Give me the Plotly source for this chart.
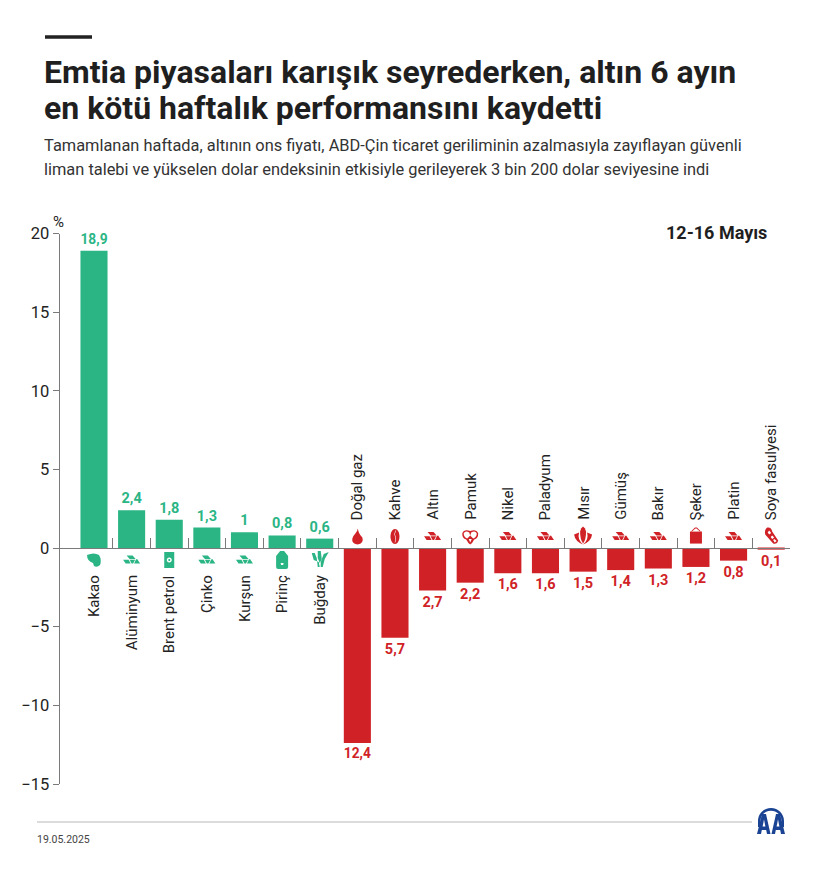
import re
import plotly.graph_objects as go

W = 820
H = 869

categories = ["Kakao", "Alüminyum", "Brent petrol", "Çinko", "Kurşun", "Pirinç", "Buğday",
              "Doğal gaz", "Kahve", "Altın", "Pamuk", "Nikel", "Paladyum", "Mısır",
              "Gümüş", "Bakır", "Şeker", "Platin", "Soya fasulyesi"]
values = [18.9, 2.4, 1.8, 1.3, 1, 0.8, 0.6,
          -12.4, -5.7, -2.7, -2.2, -1.6, -1.6, -1.5,
          -1.4, -1.3, -1.2, -0.8, -0.1]
icons = ["cocoa", "metal", "barrel", "metal", "metal", "rice", "wheat",
         "flame", "bean", "metal", "cotton", "metal", "metal", "corn",
         "metal", "metal", "sack", "metal", "soy"]
y_ticks = [-15, -10, -5, 0, 5, 10, 15, 20]

title_lines = ["Emtia piyasaları karışık seyrederken, altın 6 ayın",
               "en kötü haftalık performansını kaydetti"]
sub_lines = ["Tamamlanan haftada, altının ons fiyatı, ABD-Çin ticaret geriliminin azalmasıyla zayıflayan güvenli",
             "liman talebi ve yükselen dolar endeksinin etkisiyle gerileyerek 3 bin 200 dolar seviyesine indi"]
period = "12-16 Mayıs"
date_text = "19.05.2025"

GREEN = "#2bb585"
RED = "#d02226"
INK = "#222222"
AXIS = "#7a7a7a"
BLUE = "#1b4393"


def circle(cx, cy, r):
    k = 0.55 * r
    return (f"M {cx - r},{cy} C {cx - r},{cy + k} {cx - k},{cy + r} {cx},{cy + r} "
            f"C {cx + k},{cy + r} {cx + r},{cy + k} {cx + r},{cy} "
            f"C {cx + r},{cy - k} {cx + k},{cy - r} {cx},{cy - r} "
            f"C {cx - k},{cy - r} {cx - r},{cy - k} {cx - r},{cy} Z")


# small pictograms, drawn in pixels around their own centre (y goes up)
ICON_PATHS = {
    "metal": [("c", "M -5,4.5 L 1,4.5 L 4,1 L -2,1 Z"),
              ("c", "M -8.5,0.3 L -3,0.3 L -1,-3.5 L -6,-3.5 Z"),
              ("c", "M -2,0.3 L 3.5,0.3 L 1.5,-3.5 L 0,-3.5 Z"),
              ("c", "M 4.3,0.5 L 5.5,1 L 8.5,-3.5 L 2.5,-3.5 Z")],
    "cocoa": [("c", "M -7,5 Q 0,8 5,5 Q 8,0 6,-5 Q 3,-8 0,-6 L -1,-3 Q -7,-1 -7,5 Z")],
    "barrel": [("c", "M -5,8 L 5,8 L 5,-8 L -5,-8 Z"),
               ("w", circle(0, 0, 2.5)),
               ("c", circle(0, 0, 1))],
    "rice": [("c", "M -2,9 L 2,9 L 6,4 L 6,-7 Q 6,-9 4,-9 L -4,-9 Q -6,-9 -6,-7 L -6,4 Z"),
             ("w", "M -1.5,-3 L 1.5,-3 L 1,-5 L -1,-5 Z")],
    "wheat": [("c", "M -8,7 L -5,7 L -3,2 L -2,-7 L 0,-7 L -1,-2 L -6,0 Z"),
              ("c", "M 1,-7 L 3,-7 L 5,1 L 9,8 L 4,6 L 1,-2 Z"),
              ("c", "M -2,9 L 1,9 L 2,1 L 0,-3 L -2,2 Z")],
    "flame": [("c", "M 0.5,8 Q 1,3 5,-1 Q 7,-7 0,-8 Q -6,-7 -5,-2 Q -4,1 -2,3 Q 0,5 0.5,8 Z")],
    "bean": [("c", "M -4.5,0 C -4.5,4 -2.5,7.5 0,7.5 C 2.5,7.5 4.5,4 4.5,0 C 4.5,-4 2.5,-7.5 0,-7.5 C -2.5,-7.5 -4.5,-4 -4.5,0 Z"),
             ("w", "M 0.4,6 Q -1.2,3 0,0 Q 1.2,-3 -0.4,-6 L 0.2,-6 Q 1.8,-3 0.6,0 Q -0.6,3 1,6 Z")],
    "cotton": [("c", "M -8,3 Q -6,8 0,5.5 Q 6,8 8,3 Q 8,-2 4,-3 Q 2,-7 0,-8 Q -2,-7 -4,-3 Q -8,-2 -8,3 Z"),
               ("w", "M -6.5,3 Q -5,6.5 -1,4 L 0,1 L -3,-2 Q -6.5,-0.5 -6.5,3 Z"),
               ("w", "M 6.5,3 Q 5,6.5 1,4 L 0,1 L 3,-2 Q 6.5,-0.5 6.5,3 Z"),
               ("w", "M -1.5,-2.5 L 1.5,-2.5 L 0,-6 Z")],
    "corn": [("c", "M -9,2 Q -8,-5 0,-8 Q -6,-3 -4,4 Z"),
             ("c", "M 9,2 Q 8,-5 0,-8 Q 6,-3 4,4 Z"),
             ("c", "M -3,5 Q -3,-3 0,-7 Q 3,-3 3,5 Q 2,9 0,10 Q -2,9 -3,5 Z")],
    "sack": [("c", "M -6,5 L 6,5 L 6,-7 L -6,-7 Z"),
             ("c", "M -5,5 L -1,9 L 1,9 L 5,5 L 4,5 L 0.5,8 L -0.5,8 L -4,5 Z")],
    "soy": [("c", "M -4,9 Q 0,10 1,5 L 7,-4 Q 6,-8 2,-7 L -6,2 Q -7,7 -4,9 Z"),
            ("w", "M -2,6 L -3.5,4 L -2,2 L 0,3.5 Z"),
            ("w", "M 1,1 L -0.5,-0.5 L 1,-2.5 L 3,-1 Z"),
            ("w", "M 3.5,-6 L 5.5,-4.5 L 3,-2.5 L 2,-3.5 Z")],
}
LOGO_PATHS = [
    ("M -13,0 C -13,7.2 -7.2,13 0,13 C 7.2,13 13,7.2 13,0 L 13,-6 L 10.5,-6 L 10.5,0 C 10.5,5.8 5.8,10.2 0,10.2 C -5.8,10.2 -10.5,5.8 -10.5,0 L -10.5,-6 L -13,-6 Z", BLUE),
    ("M -14,-13 L -9,7 L -5,7 L -0.5,-13 L -4,-13 L -4.8,-9 L -9.2,-9 L -10,-13 Z", BLUE),
    ("M 14,-13 L 9,7 L 5,7 L 0.5,-13 L 4,-13 L 4.8,-9 L 9.2,-9 L 10,-13 Z", BLUE),
    ("M -8.4,-5.5 L -5.6,-5.5 L -7,1.5 Z", "white"),
    ("M 8.4,-5.5 L 5.6,-5.5 L 7,1.5 Z", "white"),
]


def px_x(p):
    return p / W


def px_y(p):
    return 1 - p / H


def shift(path, dy):
    return re.sub(r"(-?\d+\.?\d*),(-?\d+\.?\d*)",
                  lambda m: f"{m.group(1)},{float(m.group(2)) + dy}", path)


idx = list(range(len(categories)))
colors = [GREEN if v > 0 else RED for v in values]
labels = [f"{abs(v):g}".replace(".", ",") for v in values]

fig = go.Figure(go.Bar(
    x=idx, y=values, width=0.72, marker=dict(color=colors, line_width=0),
    text=labels, textposition="outside", textangle=0, cliponaxis=False,
    textfont=dict(family="Roboto", size=14.5, color=colors, weight="bold"),
    hoverinfo="skip",
))

annotations = []
shapes = []


def add_text(text, x, y, size, color=INK, weight=None, xanchor="left"):
    annotations.append(dict(text=text, xref="paper", yref="paper", x=px_x(x), y=px_y(y),
                            xanchor=xanchor, yanchor="middle", showarrow=False,
                            borderpad=0, borderwidth=0,
                            font=dict(family="Roboto", size=size, color=color, weight=weight)))


for line, y in zip(title_lines, [72, 108]):
    add_text(line, 44, y, 32, "#1f1f1f", "bold")
for line, y in zip(sub_lines, [145.5, 169.5]):
    add_text(line, 44, y, 16.4, "#333333")
add_text(period, 716, 233, 18, "#1f1f1f", "bold", "center")
add_text("%", 59, 222, 15, INK, None, "center")
add_text(date_text, 37, 839, 10.5, "#444444")

for k, name in enumerate(categories):
    up = values[k] < 0
    annotations.append(dict(text=name, x=k, y=0, xref="x", yref="y", showarrow=False,
                            textangle=-90, xanchor="center",
                            yanchor="bottom" if up else "top",
                            yshift=28 if up else -27, borderpad=0, borderwidth=0,
                            font=dict(family="Roboto", size=15, color=INK)))
    for tone, path in ICON_PATHS[icons[k]]:
        shapes.append(dict(type="path", layer="above", xref="x", yref="y",
                           xsizemode="pixel", ysizemode="pixel", xanchor=k, yanchor=0,
                           path=shift(path, 11.5 if up else -12),
                           fillcolor="white" if tone == "w" else colors[k],
                           line_width=0))

shapes.append(dict(type="line", xref="paper", yref="paper", x0=px_x(45), x1=px_x(92),
                   y0=px_y(37), y1=px_y(37), line=dict(color="#222222", width=3.5)))
shapes.append(dict(type="line", xref="paper", yref="paper", x0=px_x(37), x1=px_x(752),
                   y0=px_y(822), y1=px_y(822), line=dict(color="#cfcfcf", width=1.5)))
for path, fill in LOGO_PATHS:
    shapes.append(dict(type="path", xref="paper", yref="paper", xsizemode="pixel",
                       ysizemode="pixel", xanchor=px_x(771), yanchor=px_y(821),
                       path=path, fillcolor=fill, line_width=0))

fig.update_layout(
    width=W, height=H, margin=dict(l=0, r=0, t=0, b=0, autoexpand=False),
    paper_bgcolor="white", plot_bgcolor="white", showlegend=False,
    annotations=annotations, shapes=shapes,
    xaxis=dict(domain=[px_x(59.5), px_x(790)], range=[-0.917, 18.5], anchor="free",
               position=px_y(548), showgrid=False, zeroline=False,
               showline=True, linecolor=AXIS, linewidth=1,
               tickmode="array", tickvals=[k + 0.5 for k in idx], ticktext=[""] * len(idx),
               ticks="inside", ticklen=10, tickcolor=AXIS, tickwidth=1),
    yaxis=dict(domain=[px_y(784), px_y(233.5)], range=[-15, 20], showgrid=False, zeroline=False,
               showline=True, linecolor=AXIS, linewidth=1,
               tickmode="array", tickvals=y_ticks, ticks="outside", ticklen=6,
               tickcolor=AXIS, tickwidth=1,
               tickfont=dict(family="Roboto", size=16.5, color=INK)),
)

fig.write_html("out.html", config={"displayModeBar": False},
               post_script="document.body.style.margin='0';")
